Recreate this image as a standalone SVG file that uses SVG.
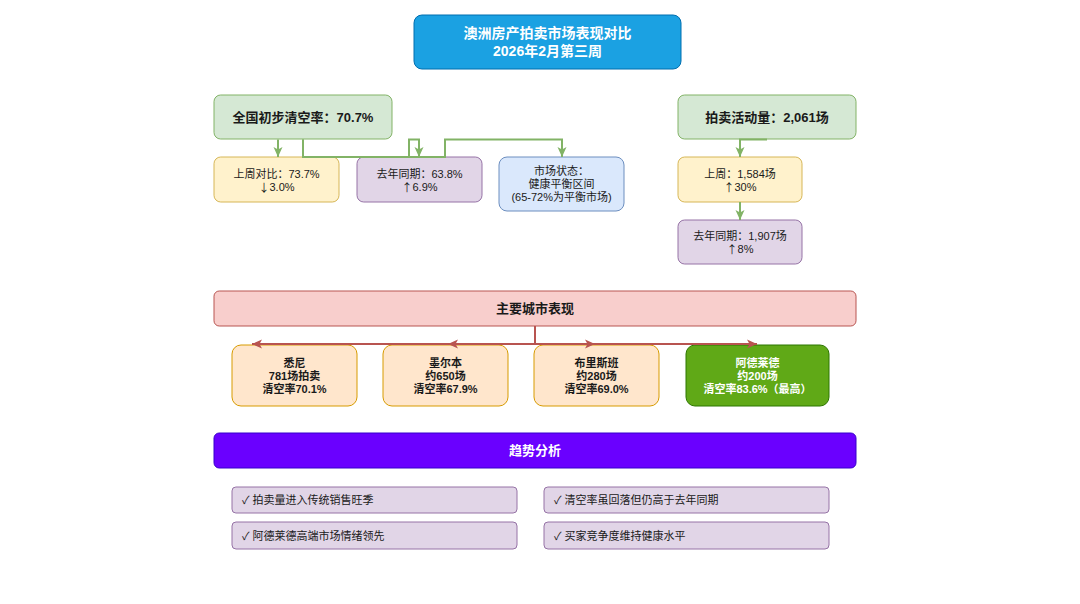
<svg xmlns="http://www.w3.org/2000/svg" width="1080" height="604" viewBox="0 0 1080 604">
  <style>
    text { font-family: "Liberation Sans", "Noto Sans CJK SC", sans-serif; fill: #1a1a1a; text-anchor: middle; dominant-baseline: central; }
    .t { font-size: 11px; }
    .b { font-weight: bold; }
    .h { font-size: 13px; font-weight: bold; }
    .w { fill: #ffffff; }
    .l { text-anchor: start; }
    .arw { font-family: "Noto Sans CJK SC", "DejaVu Sans", sans-serif; }
    .green { fill: #d5e8d4; stroke: #82b366; }
    .yellow { fill: #fff2cc; stroke: #d6b656; }
    .purple { fill: #e1d5e7; stroke: #9673a6; }
    .blue { fill: #dae8fc; stroke: #6c8ebf; }
    .pink { fill: #f8cecc; stroke: #b85450; }
    .orange { fill: #ffe6cc; stroke: #d79b00; }
    .dgreen { fill: #60a917; stroke: #2d7600; }
    .violet { fill: #6a00ff; stroke: #3700cc; }
    .title { fill: #1ba1e2; stroke: #006eaf; }
    rect { stroke-width: 1; }
    .eg { fill: none; stroke: #82b366; stroke-width: 2; marker-end: url(#ag); }
    .er { fill: none; stroke: #b85450; stroke-width: 2; marker-end: url(#ar); }
  </style>
  <defs>
    <marker id="ag" markerWidth="12" markerHeight="12" refX="10" refY="5" orient="auto" markerUnits="userSpaceOnUse">
      <path d="M0,0.5 L10,5 L0,9.5 L2.5,5 z" fill="#82b366"/>
    </marker>
    <marker id="ar" markerWidth="12" markerHeight="12" refX="10" refY="5" orient="auto" markerUnits="userSpaceOnUse">
      <path d="M0,0.5 L10,5 L0,9.5 L2.5,5 z" fill="#b85450"/>
    </marker>
  </defs>
  <rect width="1080" height="604" fill="#ffffff"/>

  <g id="title">
    <rect class="title" x="414" y="15" width="267" height="54" rx="8"/>
    <text class="b w" x="547.5" y="33" font-size="14">澳洲房产拍卖市场表现对比</text>
    <text class="b w" x="547.5" y="51" font-size="14">2026年2月第三周</text>
  </g>

  <g id="clearance">
    <rect class="green" x="214" y="95" width="178" height="44" rx="6.6"/>
    <text class="h" x="303" y="117">全国初步清空率：70.7%</text>
  </g>
  <g id="last-week-rate">
    <rect class="yellow" x="214" y="157" width="125" height="45" rx="6.7"/>
    <text class="t" x="276.5" y="173.5">上周对比：73.7%</text>
    <text class="t" x="276.5" y="186.5"><tspan class="arw">↓</tspan>3.0%</text>
  </g>
  <g id="last-year-rate">
    <rect class="purple" x="357" y="157" width="125" height="45" rx="6.7"/>
    <text class="t" x="419.5" y="173.5">去年同期：63.8%</text>
    <text class="t" x="419.5" y="186.5"><tspan class="arw">↑</tspan>6.9%</text>
  </g>
  <g id="market-status">
    <rect class="blue" x="499" y="157" width="125" height="54" rx="8"/>
    <text class="t" x="561.5" y="171">市场状态：</text>
    <text class="t" x="561.5" y="184">健康平衡区间</text>
    <text class="t" x="561.5" y="197">(65-72%为平衡市场)</text>
  </g>

  <g id="volume">
    <rect class="green" x="678" y="95" width="178" height="44" rx="6.6"/>
    <text class="h" x="767" y="117">拍卖活动量：2,061场</text>
  </g>
  <g id="last-week-volume">
    <rect class="yellow" x="678" y="157" width="124" height="45" rx="6.7"/>
    <text class="t" x="740" y="173.5">上周：1,584场</text>
    <text class="t" x="740" y="186.5"><tspan class="arw">↑</tspan>30%</text>
  </g>
  <g id="last-year-volume">
    <rect class="purple" x="678" y="220" width="124" height="44" rx="6.6"/>
    <text class="t" x="740" y="235.5">去年同期：1,907场</text>
    <text class="t" x="740" y="248.5"><tspan class="arw">↑</tspan>8%</text>
  </g>

  <g id="cities-header">
    <rect class="pink" x="214" y="291" width="642" height="35" rx="5.2"/>
    <text class="h" x="535" y="308.5">主要城市表现</text>
  </g>
  <g id="sydney">
    <rect class="orange" x="232" y="345" width="125" height="61" rx="9"/>
    <text class="t b" x="294.5" y="362.5">悉尼</text>
    <text class="t b" x="294.5" y="375.5">781场拍卖</text>
    <text class="t b" x="294.5" y="388.5">清空率70.1%</text>
  </g>
  <g id="melbourne">
    <rect class="orange" x="383" y="345" width="125" height="61" rx="9"/>
    <text class="t b" x="445.5" y="362.5">墨尔本</text>
    <text class="t b" x="445.5" y="375.5">约650场</text>
    <text class="t b" x="445.5" y="388.5">清空率67.9%</text>
  </g>
  <g id="brisbane">
    <rect class="orange" x="534" y="345" width="125" height="61" rx="9"/>
    <text class="t b" x="596.5" y="362.5">布里斯班</text>
    <text class="t b" x="596.5" y="375.5">约280场</text>
    <text class="t b" x="596.5" y="388.5">清空率69.0%</text>
  </g>
  <g id="adelaide">
    <rect class="dgreen" x="686" y="345" width="143" height="61" rx="9"/>
    <text class="t b w" x="757.5" y="362.5">阿德莱德</text>
    <text class="t b w" x="757.5" y="375.5">约200场</text>
    <text class="t b w" x="757.5" y="388.5">清空率83.6%（最高）</text>
  </g>

  <g id="trends-header">
    <rect class="violet" x="214" y="433" width="642" height="35" rx="5.2"/>
    <text class="h w" x="535" y="450.5">趋势分析</text>
  </g>
  <g id="trend-1">
    <rect class="purple" x="232" y="487" width="285" height="26" rx="3.9"/>
    <text class="t l" x="242" y="500">✓ 拍卖量进入传统销售旺季</text>
  </g>
  <g id="trend-2">
    <rect class="purple" x="544" y="487" width="285" height="26" rx="3.9"/>
    <text class="t l" x="554" y="500">✓ 清空率虽回落但仍高于去年同期</text>
  </g>
  <g id="trend-3">
    <rect class="purple" x="232" y="522" width="285" height="27" rx="4"/>
    <text class="t l" x="242" y="535.5">✓ 阿德莱德高端市场情绪领先</text>
  </g>
  <g id="trend-4">
    <rect class="purple" x="544" y="522" width="285" height="27" rx="4"/>
    <text class="t l" x="554" y="535.5">✓ 买家竞争度维持健康水平</text>
  </g>

  <g id="connectors">
    <path class="eg" d="M278 139.5 V157"/>
    <path class="eg" d="M303 139.5 V157 H409 V139.5 H419 V157"/>
    <path class="eg" d="M303 139.5 V157 H445 V139.5 H562 V157"/>
    <path class="eg" d="M767 139.5 H740 V157"/>
    <path class="eg" d="M740 202 V220"/>
    <path class="er" d="M535 326 V344 H252"/>
    <path class="er" d="M535 326 V344 H448"/>
    <path class="er" d="M535 326 V344 H595"/>
    <path class="er" d="M535 326 V344 H757"/>
  </g>
</svg>
